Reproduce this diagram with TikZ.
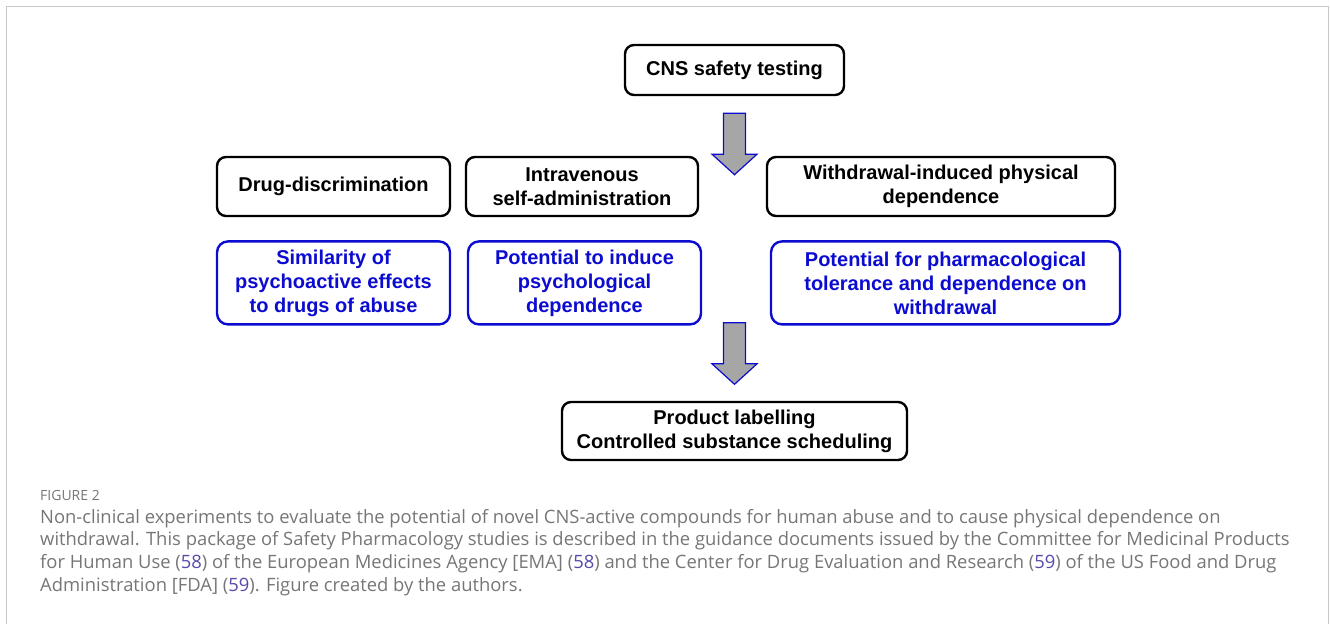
\documentclass[tikz,border=0pt]{standalone}
\usepackage{fontspec}
\setmainfont{Liberation Sans}
\newfontfamily\capfont{Open Sans}
\usepackage{tikz}
\usetikzlibrary{positioning}
\definecolor{frame}{RGB}{200,200,200}
\definecolor{azul}{RGB}{12,12,208}
\definecolor{flecha}{RGB}{166,166,166}
\definecolor{capgray}{RGB}{118,118,118}
\definecolor{reflink}{RGB}{84,74,170}
\newcommand{\rf}[1]{\textcolor{reflink}{#1}}

\begin{document}
\begin{tikzpicture}[
    x=1pt, y=-1pt,
    font=\fontsize{20}{24}\selectfont\bfseries,
    testbox/.style={rectangle, draw=black, line width=2.4pt, rounded corners=9pt,
      align=center, inner sep=0pt, minimum height=59pt},
    outcome/.style={rectangle, draw=azul, line width=2.4pt, rounded corners=11pt,
      text=azul, align=center, inner sep=0pt, minimum height=83pt},
    downarrow/.pic={
      \draw[fill=flecha, draw=azul, line width=1.2pt, line join=miter]
        (-11,0) -- (11,0) -- (11,41) -- (22.5,41) -- (0,61.5)
        -- (-22.5,41) -- (-11,41) -- cycle;
    },
    caption/.style={font=\capfont\fontsize{18.4}{22.7}\selectfont, text=capgray,
      align=left, inner sep=0pt}
  ]
    \useasboundingbox (0,0) rectangle (1330,624);
    % outer frame, open at the bottom
    \draw[frame, line width=1.5pt] (6.5,624) -- (6.5,6.5) -- (1328.5,6.5) -- (1328.5,624);

    \node[testbox, minimum width=219pt, minimum height=50pt] (cns) at (734.5,70) {CNS safety testing};

    % the three tests
    \node[testbox, minimum width=233pt] (drug) at (333.5,186.5) {Drug-discrimination};
    \node[testbox, minimum width=232pt] (iv) at (582,186.5) {Intravenous\\self-administration};
    \node[testbox, minimum width=348pt] (wdl) at (941,186.5) {Withdrawal-induced physical\\dependence};

    % what each test tells
    \node[outcome, minimum width=233pt, below=23pt of drug] (sim)
      {Similarity of\\psychoactive effects\\to drugs of abuse};
    \node[outcome, minimum width=233pt, below=23pt of iv, xshift=2.5pt] (psy)
      {Potential to induce\\psychological\\dependence};
    \node[outcome, minimum width=349pt, below=23pt of wdl, xshift=4.5pt] (tol)
      {Potential for pharmacological\\tolerance and dependence on\\withdrawal};

    \node[testbox, minimum width=345pt, minimum height=58pt] (label) at (734.5,431)
      {Product labelling\\Controlled substance scheduling};

    \path (cns.south) ++(0,17) pic {downarrow};
    \path (label.north) ++(0,-78) pic {downarrow};

    % caption
    \node[caption, anchor=north west, font=\capfont\fontsize{14}{16}\selectfont] (fig) at (40,490) {FIGURE 2};
    \node[caption, anchor=north west] (captext) at (40,509)
      {Non-clinical experiments to evaluate the potential of novel CNS-active compounds for human abuse and to cause physical dependence on\\
       withdrawal. This package of Safety Pharmacology studies is described in the guidance documents issued by the Committee for Medicinal Products\\
       for Human Use (\rf{58}) of the European Medicines Agency [EMA] (\rf{58}) and the Center for Drug Evaluation and Research (\rf{59}) of the US Food and Drug\\
       Administration [FDA] (\rf{59}). Figure created by the authors.};
  \end{tikzpicture}
\end{document}
